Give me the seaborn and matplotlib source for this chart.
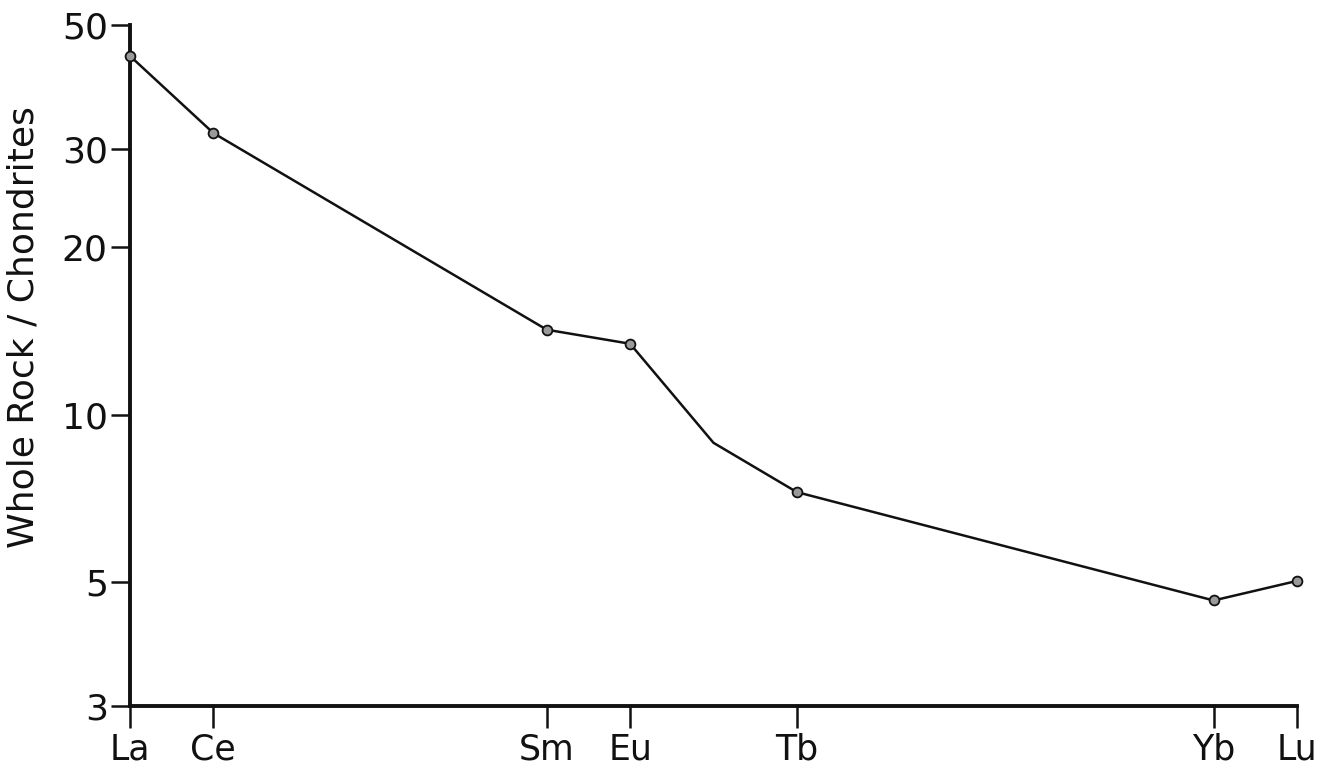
import matplotlib
matplotlib.use("Agg")
import matplotlib.pyplot as plt
import seaborn as sns
import pandas as pd

# Chondrite-normalised rare earth element pattern
elements = ["La", "Ce", "Sm", "Eu", "Gd", "Tb", "Yb", "Lu"]
atomic_numbers = [57, 58, 62, 63, 64, 65, 70, 71]
normalized = [44.0, 32.0, 14.2, 13.4, 8.9, 7.26, 4.64, 5.03]
measured = [True, True, True, True, False, True, True, True]

tick_elements = ["La", "Ce", "Sm", "Eu", "Tb", "Yb", "Lu"]
tick_numbers = [57, 58, 62, 63, 65, 70, 71]
y_ticks = [3, 5, 10, 20, 30, 50]
y_tick_labels = ["3", "5", "10", "20", "30", "50"]

df = pd.DataFrame({"element": elements, "Z": atomic_numbers,
                   "ratio": normalized, "measured": measured})

sns.set_style("ticks")
plt.rcParams["font.family"] = ["DejaVu Sans"]

fig = plt.figure(figsize=(13.32, 7.75), dpi=100)
ax = fig.add_axes([0.0976, 0.089, 0.9737 - 0.0976, 0.9677 - 0.089])

sns.lineplot(data=df, x="Z", y="ratio", ax=ax, color="#111111",
             linewidth=1.8, sort=True)
sns.scatterplot(data=df[df["measured"]], x="Z", y="ratio", ax=ax,
                s=50, color="#9a9a9a", edgecolor="#111111", linewidth=1.3,
                zorder=5, clip_on=False)

ax.set_yscale("log")
ax.set_ylim(3, 50)
ax.set_xlim(57, 71)
ax.set_yticks(y_ticks)
ax.set_yticklabels(y_tick_labels)
ax.minorticks_off()
ax.set_xticks(tick_numbers)
ax.set_xticklabels(tick_elements)

ax.tick_params(axis="y", direction="out", length=14, width=1.8,
               labelsize=26, pad=2, color="#111111", labelcolor="#111111")
ax.tick_params(axis="x", direction="out", length=16, width=1.8,
               labelsize=25, pad=3, color="#111111", labelcolor="#111111")

ax.set_xlabel("")
ax.set_ylabel("Whole Rock / Chondrites", fontsize=26, color="#111111")
ax.yaxis.set_label_coords(-0.077, 0.557)

sns.despine(ax=ax)
for side in ("left", "bottom"):
    ax.spines[side].set_linewidth(2.8)
    ax.spines[side].set_color("#111111")

fig.savefig("out.png", dpi=100, facecolor="white")
